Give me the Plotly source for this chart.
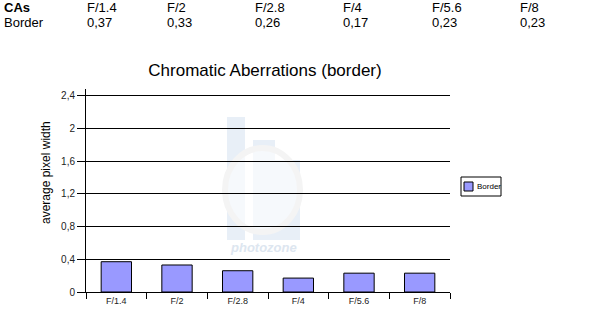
import plotly.graph_objects as go

categories = ["F/1.4", "F/2", "F/2.8", "F/4", "F/5.6", "F/8"]
border_values = [0.37, 0.33, 0.26, 0.17, 0.23, 0.23]
table_values = ["0,37", "0,33", "0,26", "0,17", "0,23", "0,23"]
series_name = "Border"

W, H = 597, 324
L, R, T, B = 86, 450, 89, 292
FONT = "Liberation Sans, Arial, sans-serif"
BAR_COLOR = "#9999ff"


def px(x):
    return (x - L) / (R - L)


def py(y):
    return (B - y) / (B - T)


fig = go.Figure()
fig.add_trace(go.Bar(
    x=categories, y=border_values, name=series_name,
    marker=dict(color=BAR_COLOR, line=dict(color="black", width=1)),
    width=0.5, showlegend=False,
))

ann = []
# top table
col_x = [85, 165, 253, 341, 430, 518]
ann.append(dict(text="<b>CAs</b>", x=px(2), y=py(8), xanchor="left", yanchor="middle"))
ann.append(dict(text=series_name, x=px(2), y=py(23), xanchor="left", yanchor="middle"))
for cx, c, v in zip(col_x, categories, table_values):
    ann.append(dict(text=c, x=px(cx), y=py(8), xanchor="left", yanchor="middle"))
    ann.append(dict(text=v, x=px(cx), y=py(23), xanchor="left", yanchor="middle"))
for a in ann:
    a.update(xref="paper", yref="paper", showarrow=False,
             font=dict(family=FONT, size=13, color="black"))

# y-axis title
ann.append(dict(text="average pixel width", x=px(46), y=py(173), xref="paper", yref="paper",
                textangle=-90, showarrow=False, xanchor="center", yanchor="middle",
                font=dict(family=FONT, size=12, color="black")))
# watermark text
ann.append(dict(text="<i><b>photozone</b></i>", x=px(263), y=py(247), xref="paper", yref="paper",
                showarrow=False, xanchor="center", yanchor="middle",
                font=dict(family=FONT, size=13, color="#dde6f0")))
# legend text
ann.append(dict(text=series_name, x=px(475), y=py(186.5), xref="paper", yref="paper",
                showarrow=False, xanchor="left", yanchor="middle",
                font=dict(family=FONT, size=8, color="black")))

shapes = []
for x0, x1, y0, y1 in [(227, 245, 117, 240), (253, 275, 140, 240), (275, 300, 160, 240)]:
    shapes.append(dict(type="rect", xref="paper", yref="paper", layer="below",
                       x0=px(x0), x1=px(x1), y0=py(y1), y1=py(y0),
                       fillcolor="#e8eff7", line=dict(width=0)))
shapes.append(dict(type="circle", xref="paper", yref="paper", layer="below",
                   x0=px(225), x1=px(300), y0=py(232), y1=py(148),
                   fillcolor="rgba(255,255,255,0.6)", line=dict(color="#f4f4f4", width=6)))
# legend box and swatch
shapes.append(dict(type="rect", xref="paper", yref="paper",
                   x0=px(461), x1=px(501), y0=py(196), y1=py(177),
                   fillcolor="white", line=dict(color="black", width=1)))
shapes.append(dict(type="rect", xref="paper", yref="paper",
                   x0=px(464), x1=px(473), y0=py(191), y1=py(182),
                   fillcolor=BAR_COLOR, line=dict(color="black", width=1)))

fig.update_layout(
    width=W, height=H,
    margin=dict(l=L, r=W - R, t=T, b=H - B, pad=0),
    paper_bgcolor="white", plot_bgcolor="rgba(0,0,0,0)",
    separators=", ",
    title=dict(text="Chromatic Aberrations (border)", x=px(265), xref="paper",
               y=1 - 70 / H, yanchor="middle", xanchor="center",
               font=dict(family=FONT, size=17, color="black")),
    font=dict(family=FONT, color="black"),
    bargap=0.5,
    showlegend=False,
    xaxis=dict(type="category", showline=True, linecolor="black", linewidth=1,
               ticks="outside", tickson="boundaries", ticklen=6, tickcolor="black",
               showgrid=False, tickfont=dict(family=FONT, size=9, color="#222"),
               fixedrange=True),
    yaxis=dict(range=[0, 2.48], tick0=0, dtick=0.4, showline=True, linecolor="black",
               linewidth=1, ticks="outside", ticklen=8, tickcolor="black",
               showgrid=True, gridcolor="black", gridwidth=1, zeroline=False,
               tickfont=dict(family=FONT, size=10, color="#222")),
    annotations=ann,
    shapes=shapes,
)

fig.write_html("out.html")
